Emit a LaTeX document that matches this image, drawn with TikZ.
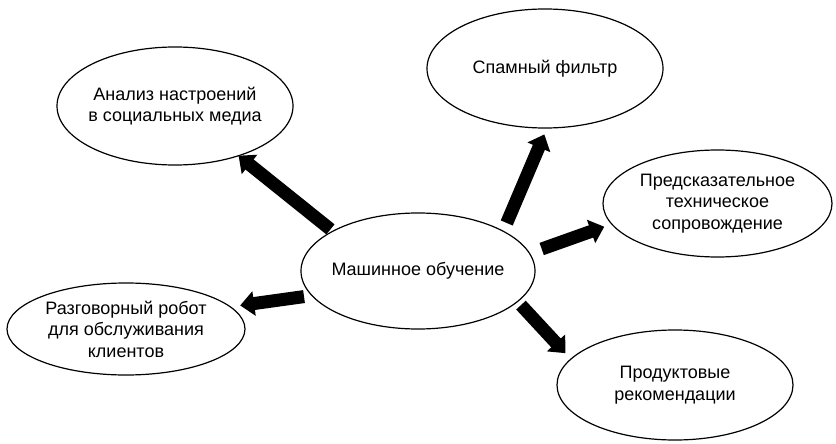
\documentclass[tikz,border=0pt]{standalone}
\usepackage{fontspec}
\setmainfont{Liberation Sans}
\usetikzlibrary{arrows.meta,shapes.geometric}
\tikzset{
  ell/.style={ellipse, draw, line width=1.2pt, inner sep=0pt, outer sep=0pt},
  lab/.style={align=center, font=\fontsize{18pt}{21.5pt}\selectfont, inner sep=0pt},
  fatarrow/.style={line width=13pt, -{Triangle[width=24pt,length=14pt]}},
}
\begin{document}
\begin{tikzpicture}[x=1pt,y=-1pt]
\useasboundingbox (0,0) rectangle (836,444);
\node[ell, minimum width=234pt, minimum height=116pt, label={[lab]center:Машинное обучение}] (c) at (418,271) {};
\node[ell, minimum width=236pt, minimum height=118pt, label={[lab]center:Анализ настроений\\в социальных медиа}] (tl) at (175,106) {};
\node[ell, minimum width=236pt, minimum height=119pt, label={[lab]center:Спамный фильтр}] (spam) at (545,68.5) {};
\node[ell, minimum width=229pt, minimum height=107pt, label={[lab]center:Предсказательное\\техническое\\сопровождение}] (pred) at (717.5,203.5) {};
\node[ell, minimum width=238pt, minimum height=92pt, label={[lab]center:Разговорный робот\\для обслуживания\\клиентов}] (left) at (126,329) {};
\node[ell, minimum width=236pt, minimum height=110pt, label={[lab]center:Продуктовые\\рекомендации}] (prod) at (675,385) {};
\draw[fatarrow, shorten <=3pt] (c.155) -- (tl.-38);
\draw[fatarrow, shorten <=9pt, shorten >=7pt] (c.25) -- (spam.-88);
\draw[fatarrow, shorten <=13pt, shorten >=8pt] (c.9.5) -- (pred.191.5);
\draw[fatarrow, shorten <=8pt, shorten >=10pt] (c.193) -- (left.12);
\draw[fatarrow, shorten <=5pt, shorten >=8pt] (c.-17) -- (prod.166);
\end{tikzpicture}
\end{document}
